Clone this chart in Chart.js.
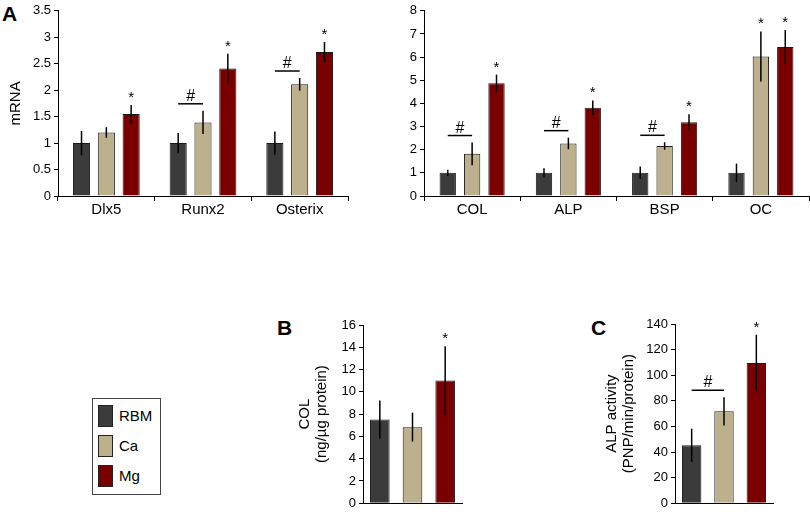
<!DOCTYPE html>
<html>
<head>
<meta charset="utf-8">
<script src="https://cdn.jsdelivr.net/npm/chart.js@4.4.1/dist/chart.umd.min.js"></script>
<style>
  body { margin: 0; background: #fff; width: 810px; height: 514px; position: relative; overflow: hidden;
         font-family: "Liberation Sans", Arial, sans-serif; color: #000; }
  canvas { position: absolute; }
  .letter { position: absolute; font-weight: bold; font-size: 21px; line-height: 1; }
  #legend { position: absolute; left: 92px; top: 398px; width: 69px; height: 97px; border: 1px solid #444; box-sizing: border-box; }
  .sw { position: absolute; left: 5px; width: 15px; height: 22px; border: 1px solid #222; box-sizing: border-box; }
  .lab { position: absolute; left: 26px; font-size: 15px; line-height: 22px; }
</style>
</head>
<body>
<div class="letter" style="left:2px;top:3px">A</div>
<div class="letter" style="left:277px;top:317px">B</div>
<div class="letter" style="left:591px;top:317px">C</div>

<canvas id="a1" width="355" height="220" style="left:0;top:0"></canvas>
<canvas id="a2" width="445" height="220" style="left:365px;top:0"></canvas>
<canvas id="b" width="175" height="204" style="left:294px;top:310px"></canvas>
<canvas id="c" width="180" height="204" style="left:601px;top:310px"></canvas>

<div id="legend"></div>

<script>
// groups
const seriesNames = ["RBM", "Ca", "Mg"];
const colors = ["#3b3b3b", "#bdb18d", "#7a0000"];

// panel A, left
const labelsA1 = ["Dlx5", "Runx2", "Osterix"];
const rbmA1 = [1.0, 1.0, 1.0];
const caA1 = [1.2, 1.39, 2.11];
const mgA1 = [1.55, 2.41, 2.72];
const rbmA1err = [0.23, 0.19, 0.22];
const caA1err = [0.1, 0.22, 0.12];
const mgA1err = [0.17, 0.28, 0.19];
const starsA1 = [[2, 0], [2, 1], [2, 2]];
const hashA1 = [1, 2];

// panel A, right
const labelsA2 = ["COL", "ALP", "BSP", "OC"];
const rbmA2 = [1.0, 1.0, 1.0, 1.0];
const caA2 = [1.82, 2.27, 2.16, 6.03];
const mgA2 = [4.87, 3.81, 3.19, 6.44];
const rbmA2err = [0.13, 0.2, 0.27, 0.4];
const caA2err = [0.49, 0.25, 0.16, 1.08];
const mgA2err = [0.37, 0.32, 0.34, 0.73];
const starsA2 = [[2, 0], [2, 1], [2, 2], [1, 3], [2, 3]];
const hashA2 = [0, 1, 2];

// panel B
const labelsB = ["COL"];
const valsB = [7.52, 6.83, 11.02];
const errsB = [1.7, 1.3, 3.07];
const starsB = [[2, 0]];
const hashB = [];

// panel C
const labelsC = ["ALP"];
const valsC = [45.2, 71.8, 109.6];
const errsC = [13, 11, 22];
const starsC = [[2, 0]];
const hashC = [0];

const errBars = {
  id: "errBars",
  afterDatasetsDraw(chart, args, opts) {
    const ctx = chart.ctx;
    const y = chart.scales.y;
    ctx.save();
    ctx.strokeStyle = "#000";
    ctx.lineWidth = 1.5;
    chart.data.datasets.forEach((ds, i) => {
      chart.getDatasetMeta(i).data.forEach((bar, j) => {
        const v = ds.data[j], e = ds.errors[j];
        ctx.beginPath();
        ctx.moveTo(bar.x, y.getPixelForValue(v + e));
        ctx.lineTo(bar.x, y.getPixelForValue(v - e));
        ctx.stroke();
      });
    });
    ctx.fillStyle = "#000";
    ctx.textAlign = "center";
    ctx.textBaseline = "alphabetic";
    ctx.font = "15px 'Liberation Sans', Arial";
    (opts.stars || []).forEach(([i, j]) => {
      const ds = chart.data.datasets[i];
      const bar = chart.getDatasetMeta(i).data[j];
      ctx.fillText("*", bar.x, y.getPixelForValue(ds.data[j] + ds.errors[j]) - 3);
    });
    ctx.font = "16px 'Liberation Sans', Arial";
    (opts.hash || []).forEach(j => {
      const b0 = chart.getDatasetMeta(0).data[j];
      const b1 = chart.getDatasetMeta(1).data[j];
      const d0 = chart.data.datasets[0], d1 = chart.data.datasets[1];
      const top = Math.min(y.getPixelForValue(d0.data[j] + d0.errors[j]),
                           y.getPixelForValue(d1.data[j] + d1.errors[j]));
      const ly = top - 7;
      ctx.beginPath();
      ctx.moveTo(b0.x, ly);
      ctx.lineTo(b1.x, ly);
      ctx.stroke();
      ctx.fillText("#", (b0.x + b1.x) / 2, ly - 3);
    });
    ctx.restore();
  }
};

function panel(id, labels, values, errors, cfg) {
  const datasets = values.map((v, i) => ({
    label: seriesNames[i],
    data: v,
    errors: errors[i],
    backgroundColor: colors[i],
    borderColor: "#1a1a1a",
    borderWidth: 1,
    categoryPercentage: cfg.cat,
    barPercentage: cfg.bar
  }));
  new Chart(document.getElementById(id), {
    type: "bar",
    data: { labels: labels, datasets: datasets },
    plugins: [errBars],
    options: {
      responsive: false,
      animation: false,
      devicePixelRatio: 1,
      layout: { padding: cfg.pad },
      plugins: {
        legend: { display: false },
        tooltip: { enabled: false },
        errBars: { stars: cfg.stars, hash: cfg.hash }
      },
      scales: {
        x: {
          grid: { drawOnChartArea: false, drawTicks: cfg.xTicks, tickLength: 5, color: "#000" },
          border: { color: "#000", width: 1 },
          ticks: { display: cfg.xTicks, color: "#000", padding: 0, font: { family: "Liberation Sans", size: 15 } },
          afterFit(s) { s.height = cfg.xh; }
        },
        y: {
          min: 0, max: cfg.max,
          grid: { drawOnChartArea: false, tickLength: 4, color: "#000" },
          border: { color: "#000", width: 1 },
          ticks: {
            stepSize: cfg.step, color: "#000", padding: 3,
            font: { family: "Liberation Sans", size: 13 },
            callback: v => String(Math.round(v * 10) / 10)
          },
          title: {
            display: !!cfg.title, text: cfg.title, color: "#000", padding: { top: 2, bottom: 2 },
            font: { family: "Liberation Sans", size: 15, lineHeight: 1.15 }
          },
          afterFit(s) { s.width = cfg.yw; }
        }
      }
    }
  });
}

panel("a1", labelsA1, [rbmA1, caA1, mgA1], [rbmA1err, caA1err, mgA1err], {
  max: 3.5, step: 0.5, title: "mRNA", yw: 53, xh: 20, xTicks: true,
  pad: { top: 10, left: 5, right: 7, bottom: 4 }, cat: 0.77, bar: 0.69, stars: starsA1, hash: hashA1
});
panel("a2", labelsA2, [rbmA2, caA2, mgA2], [rbmA2err, caA2err, mgA2err], {
  max: 8, step: 1, title: "", yw: 59, xh: 20, xTicks: true,
  pad: { top: 10, left: 0, right: 1, bottom: 4 }, cat: 0.76, bar: 0.67, stars: starsA2, hash: hashA2
});
panel("b", labelsB, [[valsB[0]], [valsB[1]], [valsB[2]]], [[errsB[0]], [errsB[1]], [errsB[2]]], {
  max: 16, step: 2, title: ["COL", "(ng/µg protein)"], yw: 69, xh: 0, xTicks: false,
  pad: { top: 15, left: 0, right: 7, bottom: 5 }, cat: 0.99, bar: 0.6, stars: starsB, hash: hashB
});
panel("c", labelsC, [[valsC[0]], [valsC[1]], [valsC[2]]], [[errsC[0]], [errsC[1]], [errsC[2]]], {
  max: 140, step: 20, title: ["ALP activity", "(PNP/min/protein)"], yw: 74, xh: 0, xTicks: false,
  pad: { top: 14, left: 0, right: 8, bottom: 4 }, cat: 0.99, bar: 0.6, stars: starsC, hash: hashC
});

// legend box
const legend = document.getElementById("legend");
seriesNames.forEach((name, i) => {
  const top = 6 + i * 30;
  legend.innerHTML += `<div class="sw" style="top:${top}px;background:${colors[i]}"></div>` +
                      `<div class="lab" style="top:${top}px">${name}</div>`;
});
</script>
</body>
</html>
